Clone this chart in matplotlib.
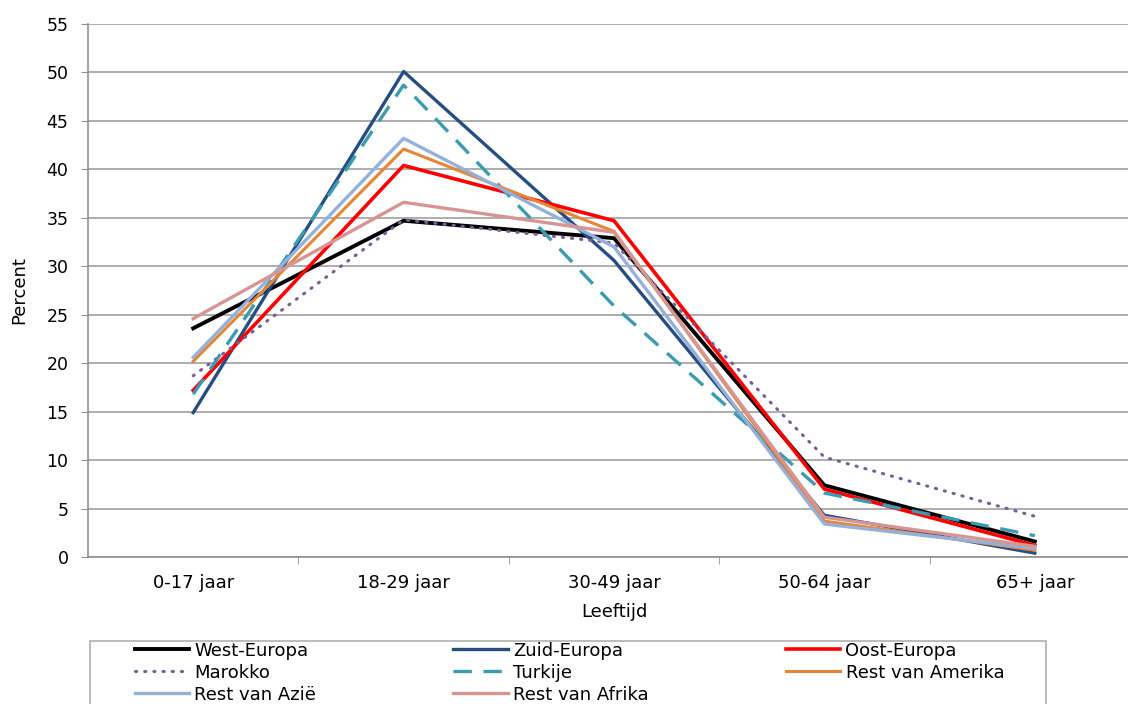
import matplotlib.pyplot as plt
from matplotlib.patches import Rectangle

# Age groups (x categories)
leeftijd = ['0-17 jaar', '18-29 jaar', '30-49 jaar', '50-64 jaar', '65+ jaar']

# Percent per region of origin
west_europa = [23.6, 34.7, 32.9, 7.4, 1.6]
zuid_europa = [14.9, 50.1, 30.6, 4.3, 0.4]
oost_europa = [17.2, 40.4, 34.7, 7.0, 1.2]
marokko = [18.7, 34.8, 32.4, 10.3, 4.2]
turkije = [16.8, 48.7, 25.9, 6.6, 2.2]
rest_amerika = [20.2, 42.1, 33.6, 3.7, 0.7]
rest_azie = [20.6, 43.2, 32.0, 3.4, 0.9]
rest_afrika = [24.6, 36.6, 33.5, 4.1, 1.1]

plt.rcParams['font.family'] = 'DejaVu Sans'
fig = plt.figure(figsize=(11.28, 7.04), dpi=100)
W, H = 1128, 704
ax = fig.add_axes([88 / W, 1 - 557 / H, (1140 - 88) / W, (557 - 24) / H])

x = range(len(leeftijd))
lines = {}
lines['West-Europa'], = ax.plot(x, west_europa, color='black', lw=2.8)
lines['Zuid-Europa'], = ax.plot(x, zuid_europa, color='#264d82', lw=2.4)
lines['Oost-Europa'], = ax.plot(x, oost_europa, color='#ff0000', lw=2.6)
lines['Marokko'], = ax.plot(x, marokko, color='#7a5c9a', lw=2.2, ls=(0, (0.4, 2.6)),
                           dash_capstyle='round')
lines['Turkije'], = ax.plot(x, turkije, color='#3b9bb0', lw=2.4, ls=(0, (5.5, 3.5)))
lines['Rest van Amerika'], = ax.plot(x, rest_amerika, color='#e38636', lw=2.2)
lines['Rest van Azië'], = ax.plot(x, rest_azie, color='#95b1d9', lw=2.4)
lines['Rest van Afrika'], = ax.plot(x, rest_afrika, color='#d69594', lw=2.4)

ax.set_xlim(-0.5, len(leeftijd) - 0.5)
ax.set_ylim(0, 55)
ax.set_yticks(range(0, 56, 5))
ax.set_xticks(list(x))
ax.set_xticklabels(leeftijd, fontsize=13)
ax.set_xticks([i + 0.5 for i in range(len(leeftijd) - 1)], minor=True)
ax.tick_params(axis='x', which='major', length=0, pad=12)
ax.tick_params(axis='x', which='minor', length=5, color='#909090')
ax.tick_params(axis='y', length=5, color='#909090', labelsize=12.5, pad=9)
ax.grid(axis='y', color='#a0a0a0', lw=1.2)
ax.set_axisbelow(True)
for s in ['top', 'right']:
    ax.spines[s].set_visible(False)
for s in ['left', 'bottom']:
    ax.spines[s].set_color('#909090')
    ax.spines[s].set_linewidth(1.2)

ax.set_xlabel('Leeftijd', fontsize=13, labelpad=8)
ax.set_ylabel('Percent', fontsize=13, labelpad=13)

order = ['West-Europa', 'Marokko', 'Rest van Azië',
         'Zuid-Europa', 'Turkije', 'Rest van Afrika',
         'Oost-Europa', 'Rest van Amerika']
leg = fig.legend([lines[k] for k in order], order, ncol=3, loc='upper left',
                 bbox_to_anchor=(133 / W, 1 - 640 / H), borderaxespad=0,
                 fontsize=13, frameon=False, handlelength=3.0,
                 handletextpad=0.3, labelspacing=0.22, borderpad=0.1,
                 columnspacing=7.6)

# legend frame, running past the bottom edge as in the original
fig.patches.append(Rectangle((90 / W, -0.05), (1046 - 90) / W, 0.05 + 1 - 641 / H,
                             transform=fig.transFigure, fill=False,
                             edgecolor='#b0b0b0', lw=1.2))

fig.savefig('out.png', dpi=100)
